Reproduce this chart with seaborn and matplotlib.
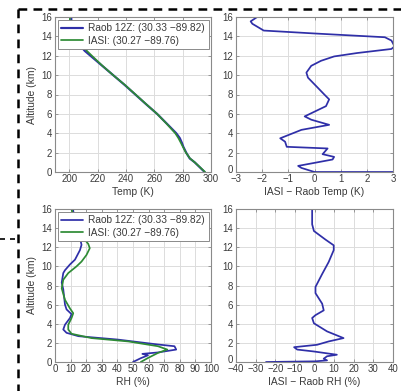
import matplotlib
matplotlib.use("Agg")
import matplotlib.pyplot as plt
import matplotlib.transforms as mtransforms
from matplotlib.lines import Line2D
import seaborn as sns
import pandas as pd

# ---------------- data ----------------
alt_temp = [0, 0.5, 1.0, 1.4, 2.0, 2.6, 3.0, 3.5, 4.0, 5.0, 6.0, 7.0, 8.0, 9.0,
            10.0, 11.0, 12.0, 12.5, 13.0, 14.0, 15.0, 15.5, 16.0]
temp_raob = [295.5, 292, 288.5, 285, 282.5, 280.5, 279.5, 278, 275.5, 268.8, 262,
             254.2, 246.6, 239, 231, 223, 215, 211, 208, 205, 203, 201.5, 201.5]
temp_iasi = [295.8, 292.2, 288.5, 285.2, 282.3, 280.2, 278.8, 277, 274.8, 268.6, 262,
             254.3, 246.8, 239.2, 231, 223.2, 216, 212.5, 210, 204, 201, 200.5, 200.5]

alt_dtemp = [16.0, 15.55, 15.3, 14.6, 14.3, 13.91, 13.57, 12.97, 12.7, 12.28, 11.93,
             11.48, 10.96, 10.26, 9.74, 8.7, 8.0, 7.5, 6.8, 5.74, 5.4, 4.87, 4.35,
             3.48, 3.13, 2.6, 2.43, 1.84, 1.56, 1.29, 0.63, 0.42, 0.0, 0.0]
dtemp = [-2.19, -2.44, -2.375, -1.94, 0.0, 2.69, 2.94, 3.06, 2.94, 1.625, 0.75,
         0.25, -0.125, -0.31, -0.25, 0.125, 0.375, 0.56, 0.44, -0.375, -0.125, 0.56,
         -0.5, -1.31, -1.125, -1.06, 0.5, 0.31, 0.75, 0.69, -0.625, -0.5, 0.0, 3.2]

alt_rh_raob = [0.0, 0.4, 0.7, 0.85, 1.0, 1.3, 1.65, 1.83, 2.35, 2.7, 3.05, 3.4, 3.9,
               4.6, 5.0, 5.5, 6.0, 7.6, 8.3, 9.3, 9.6, 10.2, 10.7, 11.7, 12.25,
               13.0, 14.0, 15.0, 16.0]
rh_raob = [50, 55, 59.6, 56, 66, 77.7, 76.6, 66, 40, 15, 7.4, 5.3, 6.4, 9.6, 10.6,
           7.4, 6.4, 5.3, 4.3, 5.3, 6.4, 9.6, 12.8, 16, 17, 16, 14, 12.5, 11.5]
alt_rh_iasi = [0.0, 0.42, 0.95, 1.3, 1.65, 2.15, 2.5, 2.95, 3.4, 3.9, 4.6, 5.1, 5.6,
               6.5, 7.7, 8.6, 9.3, 10.0, 10.5, 11.2, 11.9, 12.35, 13.0, 14.0, 15.0, 16.0]
rh_iasi = [55, 59.6, 66, 72, 66, 47, 23.4, 10.6, 8.5, 8.5, 10.6, 11.7, 9.6, 6.4, 4.3,
           5.3, 8.5, 13.8, 17, 20.2, 22.3, 21.3, 18, 15, 12.5, 10.5]

alt_drh = [16.0, 14.4, 13.7, 12.8, 12.2, 11.7, 10.45, 9.2, 7.85, 7.2, 6.1, 5.4, 4.9,
           4.6, 4.05, 3.2, 2.5, 2.15, 1.8, 1.55, 1.3, 1.1, 0.76, 0.6, 0.35, 0.17,
           0.07, 0.0]
drh = [-1.2, -1.2, -0.3, 5.6, 9.8, 9.8, 7.2, 3.9, 0.5, 0.5, 3.9, 4.7, 0.5, -1.2,
       -0.3, 6.4, 14.8, 7.2, 1.3, -10.4, -8.8, -0.3, 11.4, 6.4, 4.7, 6.4, 0.5, -24.7]

raob_label = "Raob 12Z: (30.33 \u221289.82)"
iasi_label = "IASI: (30.27 \u221289.76)"
temp_xticks = [200, 220, 240, 260, 280, 300]
dtemp_xticks = [-3, -2, -1, 0, 1, 2, 3]
rh_xticks = [0, 10, 20, 30, 40, 50, 60, 70, 80, 90, 100]
drh_xticks = [-40, -30, -20, -10, 0, 10, 20, 30, 40]
alt_ticks = [0, 2, 4, 6, 8, 10, 12, 14, 16]

# ---------------- style ----------------
sns.set_style("whitegrid")
plt.rcParams["font.family"] = ["Liberation Sans", "DejaVu Sans"]
plt.rcParams["axes.unicode_minus"] = True

BLUE = "#2f2fa8"
GREEN = "#2e8b35"
TXT = "#3a3a3a"
FS = 6.9

W, H = 401, 391
fig = plt.figure(figsize=(W / 100, H / 100), dpi=100)


def px_axes(l, t, r, b):
    return fig.add_axes([l / W, (H - b) / H, (r - l) / W, (b - t) / H])


ax_t = px_axes(55, 17, 211, 172)
ax_dt = px_axes(236, 17, 393, 172)
ax_rh = px_axes(55, 209, 211, 362)
ax_drh = px_axes(236, 209, 393, 362)

lw = 1.25
d1 = pd.DataFrame({"x": temp_raob, "y": alt_temp})
d2 = pd.DataFrame({"x": temp_iasi, "y": alt_temp})
sns.lineplot(data=d1, x="x", y="y", sort=False, estimator=None, color=BLUE, lw=lw + 0.3,
             ax=ax_t, label=raob_label)
sns.lineplot(data=d2, x="x", y="y", sort=False, estimator=None, color=GREEN, lw=lw,
             ax=ax_t, label=iasi_label)

sns.lineplot(x=dtemp, y=alt_dtemp, sort=False, estimator=None, color=BLUE, lw=lw, ax=ax_dt)

sns.lineplot(x=rh_raob, y=alt_rh_raob, sort=False, estimator=None, color=BLUE, lw=lw,
             ax=ax_rh, label=raob_label)
sns.lineplot(x=rh_iasi, y=alt_rh_iasi, sort=False, estimator=None, color=GREEN, lw=lw,
             ax=ax_rh, label=iasi_label)

sns.lineplot(x=drh, y=alt_drh, sort=False, estimator=None, color=BLUE, lw=lw, ax=ax_drh)

settings = [
    (ax_t, (190, 300), temp_xticks, "Temp (K)", True),
    (ax_dt, (-3, 3), dtemp_xticks, "IASI \u2212 Raob Temp (K)", False),
    (ax_rh, (0, 100), rh_xticks, "RH (%)", True),
    (ax_drh, (-40, 40), drh_xticks, "IASI \u2212 Raob RH (%)", False),
]
for ax, xl, xt, xlab, left in settings:
    ax.set_xlim(*xl)
    ax.set_ylim(0, 16)
    ax.set_xticks(xt)
    ax.set_yticks(alt_ticks)
    ax.grid(True, color="#dcdcdc", lw=0.7)
    for s in ax.spines.values():
        s.set_visible(True)
        s.set_color("#8a8a8a")
        s.set_linewidth(0.8)
    ax.tick_params(direction="in", length=2.5, width=0.6, color="#8a8a8a",
                   labelsize=FS, labelcolor=TXT, top=True, right=True,
                   bottom=True, left=True)
    ax.tick_params(axis="x", pad=1.5)
    ax.tick_params(axis="y", pad=2)
    ax.set_xlabel(xlab, fontsize=FS + 0.5, color=TXT, labelpad=2)
    if left:
        ax.set_ylabel("Altitude (km)", fontsize=FS + 0.5, color=TXT, labelpad=3)
        leg = ax.legend(loc="upper left", fontsize=FS + 0.4, frameon=True, fancybox=False,
                        framealpha=1, edgecolor="#8a8a8a", borderaxespad=0.25,
                        handlelength=2.2, handletextpad=0.5, borderpad=0.35,
                        labelspacing=0.25)
        leg.get_frame().set_linewidth(0.7)
        for t in leg.get_texts():
            t.set_color(TXT)
    else:
        ax.set_ylabel("")
        # lift the "0" altitude label a little so it clears the first x label
        lab0 = ax.get_yticklabels()[0]
        lab0.set_transform(lab0.get_transform() +
                           mtransforms.ScaledTranslation(0, 2.5 / 72, fig.dpi_scale_trans))

# dashed border (figure decoration)
dash = dict(color="black", lw=1.8, linestyle=(0, (3.5, 2.5)))
fig.add_artist(Line2D([18 / W, 1.0], [(H - 9) / H, (H - 9) / H], **dash))
fig.add_artist(Line2D([18 / W, 18 / W], [(H - 9) / H, 0.0], **dash))
fig.add_artist(Line2D([0.0, 16 / W], [(H - 239) / H, (H - 239) / H],
                      color="black", lw=1.2, linestyle=(0, (3, 3))))

fig.savefig("out.png", dpi=100)
